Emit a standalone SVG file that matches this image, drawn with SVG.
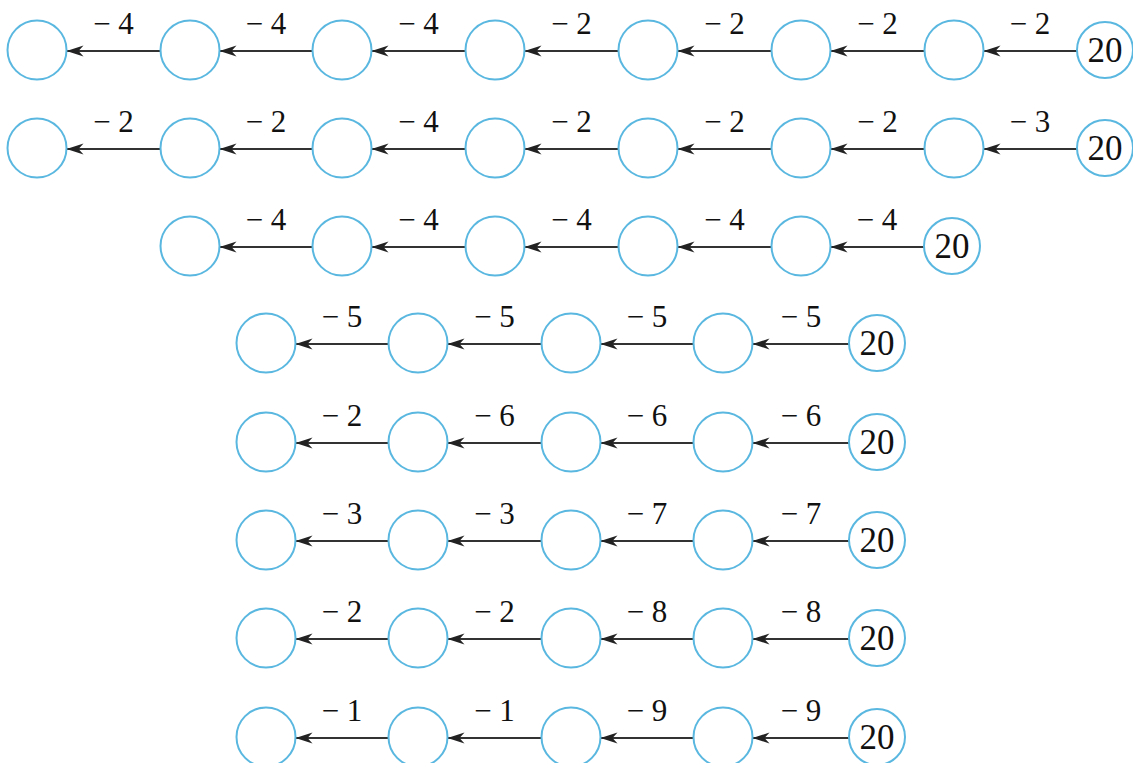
<svg xmlns="http://www.w3.org/2000/svg" width="1133" height="763" viewBox="0 0 1133 763">
<defs>
<style>
.n{fill:#fff;stroke:#5ab8e0;stroke-width:2}
.e{stroke:#333;stroke-width:1.8;fill:none;marker-end:url(#ah)}
.l{font-family:'Liberation Serif','Times New Roman','DejaVu Serif',serif;font-size:31px;fill:#111;text-anchor:middle}
.v{font-family:'Liberation Serif','Times New Roman','DejaVu Serif',serif;font-size:35px;fill:#111;text-anchor:middle}
</style>
<marker id="ah" markerUnits="userSpaceOnUse" viewBox="-18 -7 19 14" refX="0" refY="0" markerWidth="19" markerHeight="14" orient="auto">
<path d="M0,0 L-17,-5.5 L-12,0 L-17,5.5 Z" fill="#222"/>
</marker>
</defs>
<rect width="1133" height="763" fill="#fff"/>
<g id="connectors">
<line class="e" x1="160.5" y1="51" x2="66.5" y2="51"/>
<line class="e" x1="312.5" y1="51" x2="219.5" y2="51"/>
<line class="e" x1="465.5" y1="51" x2="371.5" y2="51"/>
<line class="e" x1="618.5" y1="51" x2="524.5" y2="51"/>
<line class="e" x1="771.5" y1="51" x2="677.5" y2="51"/>
<line class="e" x1="924.5" y1="51" x2="830.5" y2="51"/>
<line class="e" x1="1077" y1="51" x2="983.5" y2="51"/>
<line class="e" x1="160.5" y1="149" x2="66.5" y2="149"/>
<line class="e" x1="312.5" y1="149" x2="219.5" y2="149"/>
<line class="e" x1="465.5" y1="149" x2="371.5" y2="149"/>
<line class="e" x1="618.5" y1="149" x2="524.5" y2="149"/>
<line class="e" x1="771.5" y1="149" x2="677.5" y2="149"/>
<line class="e" x1="924.5" y1="149" x2="830.5" y2="149"/>
<line class="e" x1="1077" y1="149" x2="983.5" y2="149"/>
<line class="e" x1="312.5" y1="247" x2="219.5" y2="247"/>
<line class="e" x1="465.5" y1="247" x2="371.5" y2="247"/>
<line class="e" x1="618.5" y1="247" x2="524.5" y2="247"/>
<line class="e" x1="771.5" y1="247" x2="677.5" y2="247"/>
<line class="e" x1="924" y1="247" x2="830.5" y2="247"/>
<line class="e" x1="388.5" y1="344" x2="295.5" y2="344"/>
<line class="e" x1="541.5" y1="344" x2="447.5" y2="344"/>
<line class="e" x1="693.5" y1="344" x2="600.5" y2="344"/>
<line class="e" x1="849" y1="344" x2="752.5" y2="344"/>
<line class="e" x1="388.5" y1="443" x2="295.5" y2="443"/>
<line class="e" x1="541.5" y1="443" x2="447.5" y2="443"/>
<line class="e" x1="693.5" y1="443" x2="600.5" y2="443"/>
<line class="e" x1="849" y1="443" x2="752.5" y2="443"/>
<line class="e" x1="388.5" y1="541" x2="295.5" y2="541"/>
<line class="e" x1="541.5" y1="541" x2="447.5" y2="541"/>
<line class="e" x1="693.5" y1="541" x2="600.5" y2="541"/>
<line class="e" x1="849" y1="541" x2="752.5" y2="541"/>
<line class="e" x1="388.5" y1="639" x2="295.5" y2="639"/>
<line class="e" x1="541.5" y1="639" x2="447.5" y2="639"/>
<line class="e" x1="693.5" y1="639" x2="600.5" y2="639"/>
<line class="e" x1="849" y1="639" x2="752.5" y2="639"/>
<line class="e" x1="388.5" y1="738" x2="295.5" y2="738"/>
<line class="e" x1="541.5" y1="738" x2="447.5" y2="738"/>
<line class="e" x1="693.5" y1="738" x2="600.5" y2="738"/>
<line class="e" x1="849" y1="738" x2="752.5" y2="738"/>
</g>
<g id="labels">
<text class="l" x="113.5" y="33.5">− 4</text>
<text class="l" x="266" y="33.5">− 4</text>
<text class="l" x="418.5" y="33.5">− 4</text>
<text class="l" x="571.5" y="33.5">− 2</text>
<text class="l" x="724.5" y="33.5">− 2</text>
<text class="l" x="877.5" y="33.5">− 2</text>
<text class="l" x="1030" y="33.5">− 2</text>
<text class="l" x="113.5" y="131.5">− 2</text>
<text class="l" x="266" y="131.5">− 2</text>
<text class="l" x="418.5" y="131.5">− 4</text>
<text class="l" x="571.5" y="131.5">− 2</text>
<text class="l" x="724.5" y="131.5">− 2</text>
<text class="l" x="877.5" y="131.5">− 2</text>
<text class="l" x="1030" y="131.5">− 3</text>
<text class="l" x="266" y="229.5">− 4</text>
<text class="l" x="418.5" y="229.5">− 4</text>
<text class="l" x="571.5" y="229.5">− 4</text>
<text class="l" x="724.5" y="229.5">− 4</text>
<text class="l" x="877" y="229.5">− 4</text>
<text class="l" x="342" y="326.5">− 5</text>
<text class="l" x="494.5" y="326.5">− 5</text>
<text class="l" x="647" y="326.5">− 5</text>
<text class="l" x="801" y="326.5">− 5</text>
<text class="l" x="342" y="425.5">− 2</text>
<text class="l" x="494.5" y="425.5">− 6</text>
<text class="l" x="647" y="425.5">− 6</text>
<text class="l" x="801" y="425.5">− 6</text>
<text class="l" x="342" y="523.5">− 3</text>
<text class="l" x="494.5" y="523.5">− 3</text>
<text class="l" x="647" y="523.5">− 7</text>
<text class="l" x="801" y="523.5">− 7</text>
<text class="l" x="342" y="621.5">− 2</text>
<text class="l" x="494.5" y="621.5">− 2</text>
<text class="l" x="647" y="621.5">− 8</text>
<text class="l" x="801" y="621.5">− 8</text>
<text class="l" x="342" y="720.5">− 1</text>
<text class="l" x="494.5" y="720.5">− 1</text>
<text class="l" x="647" y="720.5">− 9</text>
<text class="l" x="801" y="720.5">− 9</text>
</g>
<g id="row1">
<g id="r1n1"><circle class="n" cx="37" cy="50" r="29.5"/></g>
<g id="r1n2"><circle class="n" cx="190" cy="50" r="29.5"/></g>
<g id="r1n3"><circle class="n" cx="342" cy="50" r="29.5"/></g>
<g id="r1n4"><circle class="n" cx="495" cy="50" r="29.5"/></g>
<g id="r1n5"><circle class="n" cx="648" cy="50" r="29.5"/></g>
<g id="r1n6"><circle class="n" cx="801" cy="50" r="29.5"/></g>
<g id="r1n7"><circle class="n" cx="954" cy="50" r="29.5"/></g>
<g id="r1s"><circle class="n" cx="1105" cy="50" r="28"/><text class="v" x="1105" y="62">20</text></g>
</g>
<g id="row2">
<g id="r2n1"><circle class="n" cx="37" cy="148" r="29.5"/></g>
<g id="r2n2"><circle class="n" cx="190" cy="148" r="29.5"/></g>
<g id="r2n3"><circle class="n" cx="342" cy="148" r="29.5"/></g>
<g id="r2n4"><circle class="n" cx="495" cy="148" r="29.5"/></g>
<g id="r2n5"><circle class="n" cx="648" cy="148" r="29.5"/></g>
<g id="r2n6"><circle class="n" cx="801" cy="148" r="29.5"/></g>
<g id="r2n7"><circle class="n" cx="954" cy="148" r="29.5"/></g>
<g id="r2s"><circle class="n" cx="1105" cy="148" r="28"/><text class="v" x="1105" y="160">20</text></g>
</g>
<g id="row3">
<g id="r3n1"><circle class="n" cx="190" cy="246" r="29.5"/></g>
<g id="r3n2"><circle class="n" cx="342" cy="246" r="29.5"/></g>
<g id="r3n3"><circle class="n" cx="495" cy="246" r="29.5"/></g>
<g id="r3n4"><circle class="n" cx="648" cy="246" r="29.5"/></g>
<g id="r3n5"><circle class="n" cx="801" cy="246" r="29.5"/></g>
<g id="r3s"><circle class="n" cx="952" cy="246" r="28"/><text class="v" x="952" y="258">20</text></g>
</g>
<g id="row4">
<g id="r4n1"><circle class="n" cx="266" cy="343" r="29.5"/></g>
<g id="r4n2"><circle class="n" cx="418" cy="343" r="29.5"/></g>
<g id="r4n3"><circle class="n" cx="571" cy="343" r="29.5"/></g>
<g id="r4n4"><circle class="n" cx="723" cy="343" r="29.5"/></g>
<g id="r4s"><circle class="n" cx="877" cy="343" r="28"/><text class="v" x="877" y="355">20</text></g>
</g>
<g id="row5">
<g id="r5n1"><circle class="n" cx="266" cy="442" r="29.5"/></g>
<g id="r5n2"><circle class="n" cx="418" cy="442" r="29.5"/></g>
<g id="r5n3"><circle class="n" cx="571" cy="442" r="29.5"/></g>
<g id="r5n4"><circle class="n" cx="723" cy="442" r="29.5"/></g>
<g id="r5s"><circle class="n" cx="877" cy="442" r="28"/><text class="v" x="877" y="454">20</text></g>
</g>
<g id="row6">
<g id="r6n1"><circle class="n" cx="266" cy="540" r="29.5"/></g>
<g id="r6n2"><circle class="n" cx="418" cy="540" r="29.5"/></g>
<g id="r6n3"><circle class="n" cx="571" cy="540" r="29.5"/></g>
<g id="r6n4"><circle class="n" cx="723" cy="540" r="29.5"/></g>
<g id="r6s"><circle class="n" cx="877" cy="540" r="28"/><text class="v" x="877" y="552">20</text></g>
</g>
<g id="row7">
<g id="r7n1"><circle class="n" cx="266" cy="638" r="29.5"/></g>
<g id="r7n2"><circle class="n" cx="418" cy="638" r="29.5"/></g>
<g id="r7n3"><circle class="n" cx="571" cy="638" r="29.5"/></g>
<g id="r7n4"><circle class="n" cx="723" cy="638" r="29.5"/></g>
<g id="r7s"><circle class="n" cx="877" cy="638" r="28"/><text class="v" x="877" y="650">20</text></g>
</g>
<g id="row8">
<g id="r8n1"><circle class="n" cx="266" cy="737" r="29.5"/></g>
<g id="r8n2"><circle class="n" cx="418" cy="737" r="29.5"/></g>
<g id="r8n3"><circle class="n" cx="571" cy="737" r="29.5"/></g>
<g id="r8n4"><circle class="n" cx="723" cy="737" r="29.5"/></g>
<g id="r8s"><circle class="n" cx="877" cy="737" r="28"/><text class="v" x="877" y="749">20</text></g>
</g>
</svg>
